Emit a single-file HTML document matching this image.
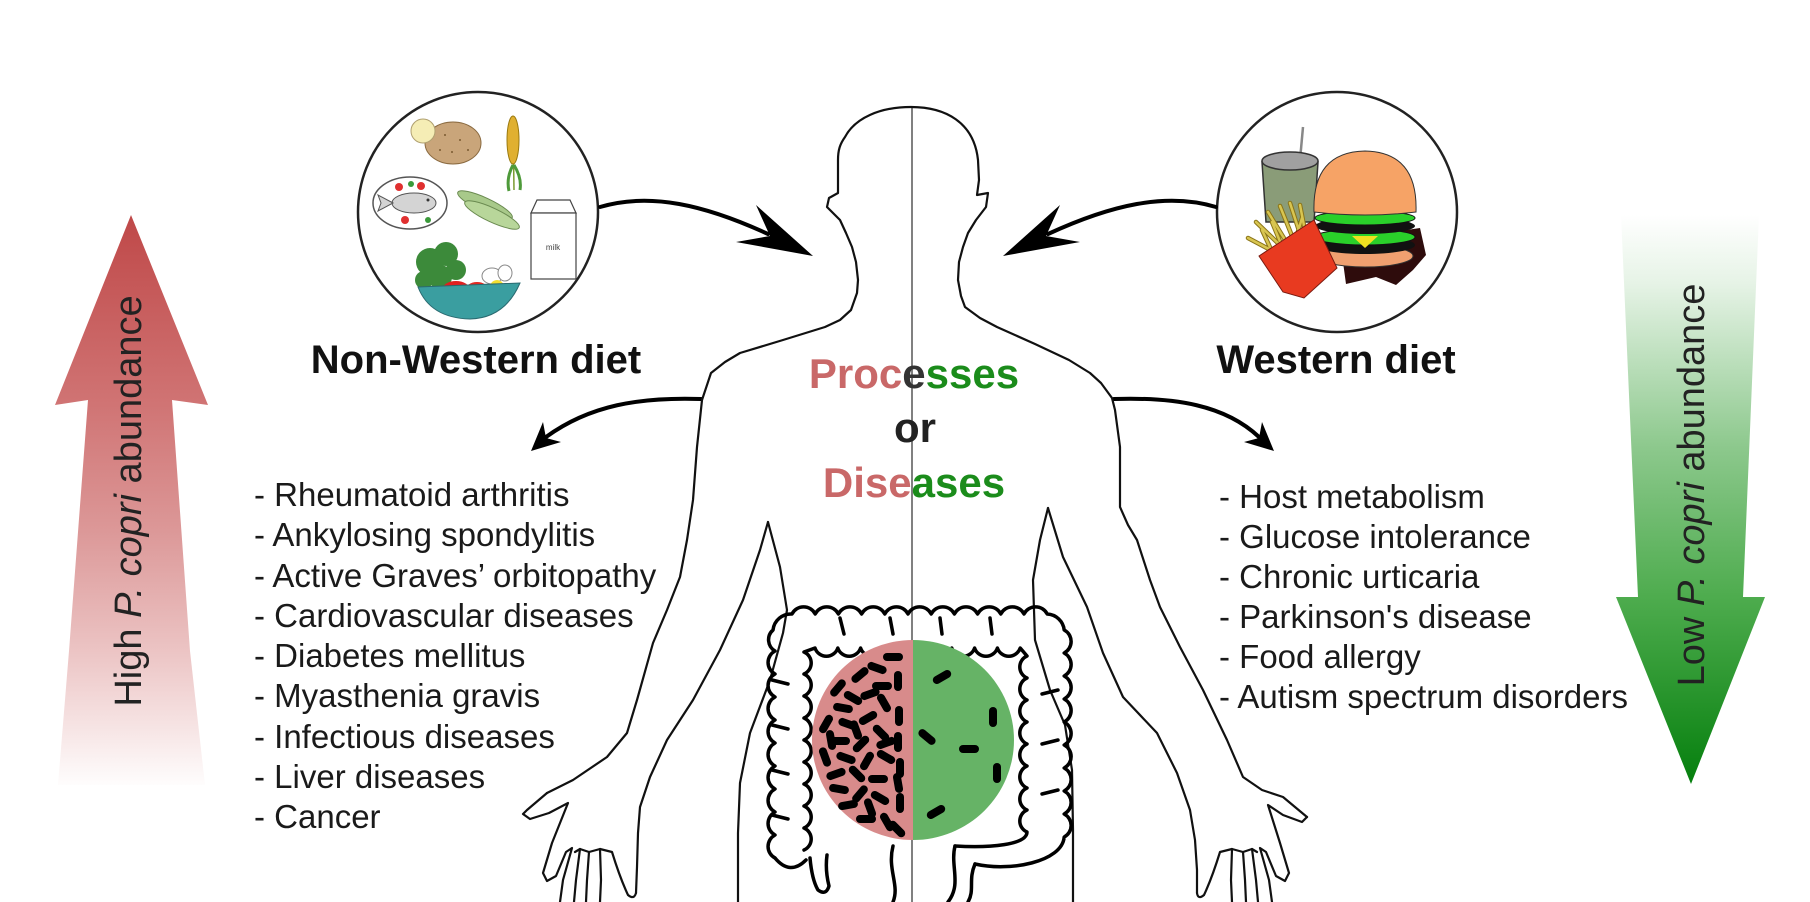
<!DOCTYPE html>
<html>
<head>
<meta charset="utf-8">
<style>
html,body{margin:0;padding:0;background:#fff;}
svg{display:block;}
text{font-family:"Liberation Sans",Arial,sans-serif;}
</style>
</head>
<body>
<svg width="1810" height="902" viewBox="0 0 1810 902" xmlns="http://www.w3.org/2000/svg">
<defs>
 <linearGradient id="rg" gradientUnits="userSpaceOnUse" x1="0" y1="215" x2="0" y2="790">
  <stop offset="0" stop-color="#bf4848"/>
  <stop offset="0.33" stop-color="#d07474"/>
  <stop offset="0.55" stop-color="#dc9898"/>
  <stop offset="0.75" stop-color="#ebc2c2"/>
  <stop offset="0.9" stop-color="#f7e6e6"/>
  <stop offset="1" stop-color="#ffffff"/>
 </linearGradient>
 <linearGradient id="gg" gradientUnits="userSpaceOnUse" x1="0" y1="215" x2="0" y2="785">
  <stop offset="0" stop-color="#ffffff"/>
  <stop offset="0.12" stop-color="#e6f3e6"/>
  <stop offset="0.41" stop-color="#8cc88c"/>
  <stop offset="0.67" stop-color="#4eac4e"/>
  <stop offset="1" stop-color="#057f0d"/>
 </linearGradient>
</defs>
<rect width="1810" height="902" fill="#fff"/>

<!-- Big side arrows -->
<path d="M131,215 L208,405 L172,400 L190,651 L205,785 L58,785 L69,651 L88,400 L55,405 Z" fill="url(#rg)"/>
<path d="M1621,215 L1759,215 L1743,597 L1765,597 L1691,784 L1616,597 L1638,597 Z" fill="url(#gg)"/>
<text transform="translate(141,501) rotate(-90)" text-anchor="middle" font-size="38" fill="#222">High <tspan font-style="italic">P. copri</tspan> abundance</text>
<text transform="translate(1704,485) rotate(-90)" text-anchor="middle" font-size="38" fill="#222">Low <tspan font-style="italic">P. copri</tspan> abundance</text>

<!-- Non-Western circle -->
<circle cx="478" cy="212" r="120" fill="#fff" stroke="#222" stroke-width="2.5"/>
<ellipse cx="453" cy="143" rx="28" ry="21" fill="#c9a57a" stroke="#8a6a40" stroke-width="1"/>
<circle cx="423" cy="131" r="12" fill="#f5edb5" stroke="#b0a070" stroke-width="1"/>
<g fill="#7a5a30"><circle cx="445" cy="135" r="1"/><circle cx="460" cy="140" r="1"/><circle cx="452" cy="152" r="1"/><circle cx="468" cy="150" r="1"/><circle cx="440" cy="150" r="1"/></g>
<line x1="514" y1="190" x2="513" y2="118" stroke="#7a9a30" stroke-width="1.5"/>
<ellipse cx="513" cy="140" rx="6" ry="24" fill="#e0b030" stroke="#9a7a10" stroke-width="1"/>
<path d="M513,165 Q506,178 509,191 M514,165 Q522,178 520,190" stroke="#4e9a3a" stroke-width="3" fill="none"/>
<ellipse cx="410" cy="203" rx="37" ry="26" fill="#fff" stroke="#555" stroke-width="1.5"/>
<ellipse cx="414" cy="203" rx="22" ry="10" fill="#d4d4d4" stroke="#555" stroke-width="1"/>
<path d="M393,203 L378,195 L381,203 L378,211 Z" fill="#d4d4d4" stroke="#555" stroke-width="1"/>
<circle cx="428" cy="200" r="1.5" fill="#333"/>
<g fill="#e03030"><circle cx="399" cy="187" r="4"/><circle cx="421" cy="186" r="4"/><circle cx="405" cy="220" r="4"/></g>
<g fill="#3a9a3a"><circle cx="411" cy="184" r="3"/><circle cx="428" cy="220" r="3"/></g>
<ellipse cx="485" cy="205" rx="30" ry="7" transform="rotate(25 485 205)" fill="#a8c98a" stroke="#6a8a50" stroke-width="1"/>
<ellipse cx="492" cy="215" rx="30" ry="7" transform="rotate(25 492 215)" fill="#b8d69a" stroke="#6a8a50" stroke-width="1"/>
<path d="M531,213 L537,200 L570,200 L576,213 Z" fill="#fff" stroke="#444" stroke-width="1.2"/>
<rect x="531" y="213" width="45" height="66" fill="#fff" stroke="#444" stroke-width="1.2"/>
<text x="553" y="250" text-anchor="middle" font-size="8" fill="#444">milk</text>
<g fill="#3c8a3a"><circle cx="430" cy="262" r="14"/><circle cx="446" cy="254" r="12"/><circle cx="440" cy="277" r="12"/><circle cx="456" cy="270" r="10"/><circle cx="424" cy="280" r="9"/></g>
<ellipse cx="492" cy="276" rx="10" ry="8" fill="#fff" stroke="#888" stroke-width="1"/>
<ellipse cx="505" cy="273" rx="7" ry="8" fill="#fff" stroke="#888" stroke-width="1"/>
<ellipse cx="456" cy="290" rx="14" ry="9" fill="#e02020"/>
<ellipse cx="477" cy="291" rx="12" ry="9" fill="#e22a22"/>
<ellipse cx="497" cy="290" rx="8" ry="10" fill="#f3e030"/>
<path d="M418,287 L520,283 Q505,318 470,319 Q430,318 418,287 Z" fill="#3a9ea0" stroke="#2a6a70" stroke-width="1"/>

<!-- Western circle -->
<circle cx="1337" cy="212" r="120" fill="#fff" stroke="#222" stroke-width="2.5"/>
<line x1="1300" y1="160" x2="1303" y2="127" stroke="#888" stroke-width="2.5"/>
<path d="M1262,162 L1318,162 L1314,222 L1266,222 Z" fill="#8a9c78" stroke="#333" stroke-width="1.5"/>
<ellipse cx="1290" cy="161" rx="28" ry="9" fill="#a0a0a0" stroke="#333" stroke-width="1.5"/>
<path d="M1340,240 L1420,228 L1426,255 L1413,270 L1396,285 L1376,277 L1346,284 Z" fill="#2e0c0c"/>
<ellipse cx="1365" cy="256" rx="48" ry="11" fill="#f0a070" stroke="#333" stroke-width="1"/>
<ellipse cx="1365" cy="245" rx="50" ry="9" fill="#111"/>
<ellipse cx="1365" cy="237" rx="50" ry="8" fill="#2ad02a" stroke="#111" stroke-width="1"/>
<path d="M1352,236 L1378,236 L1365,248 Z" fill="#f0e020"/>
<ellipse cx="1365" cy="226" rx="50" ry="8" fill="#111"/>
<ellipse cx="1365" cy="218" rx="50" ry="7" fill="#2ad02a" stroke="#111" stroke-width="1"/>
<path d="M1314,212 Q1312,152 1365,151 Q1418,152 1416,212 Q1365,218 1314,212 Z" fill="#f6a366" stroke="#333" stroke-width="1"/>
<g stroke="#8a7418" stroke-width="4.5" stroke-linecap="round"><path d="M1280,255 L1248,238 M1285,250 L1256,222 M1290,248 L1268,212 M1296,246 L1280,206 M1302,240 L1290,203 M1306,236 L1300,205 M1275,258 L1262,230 M1292,252 L1302,218 M1286,256 L1272,222"/></g>
<g stroke="#d8c550" stroke-width="2.5" stroke-linecap="round"><path d="M1280,255 L1248,238 M1285,250 L1256,222 M1290,248 L1268,212 M1296,246 L1280,206 M1302,240 L1290,203 M1306,236 L1300,205 M1275,258 L1262,230 M1292,252 L1302,218 M1286,256 L1272,222"/></g>
<path d="M1259,256 L1314,220 L1337,268 L1304,298 L1283,292 Z" fill="#e83a20" stroke="#7a1a10" stroke-width="1"/>

<!-- Diet labels -->
<text x="476" y="373" text-anchor="middle" font-size="40" font-weight="bold" fill="#111">Non-Western diet</text>
<text x="1336" y="373" text-anchor="middle" font-size="40" font-weight="bold" fill="#111">Western diet</text>

<!-- Curved arrows -->
<g stroke="#000" stroke-width="4" fill="none" stroke-linecap="round">
 <path d="M600,207 C650,192 705,205 768,234"/>
 <path d="M1216,207 C1166,192 1111,205 1048,234"/>
 <path d="M701,399 C640,397 590,405 546,437"/>
 <path d="M1114,399 C1175,397 1225,405 1259,437"/>
</g>
<path d="M813,256 L756,205 L770,236 L736,242 Z" fill="#000"/>
<path d="M1003,256 L1060,205 L1046,236 L1080,242 Z" fill="#000"/>
<path d="M531,451 L543,422 L546,438 L561,442 Z" fill="#000"/>
<path d="M1274,451 L1262,422 L1259,438 L1244,442 Z" fill="#000"/>

<!-- Lists -->
<g font-size="33" fill="#1a1a1a">
 <text x="254" y="506">- Rheumatoid arthritis</text>
 <text x="254" y="546">- Ankylosing spondylitis</text>
 <text x="254" y="587">- Active Graves’ orbitopathy</text>
 <text x="254" y="627">- Cardiovascular diseases</text>
 <text x="254" y="667">- Diabetes mellitus</text>
 <text x="254" y="707">- Myasthenia gravis</text>
 <text x="254" y="748">- Infectious diseases</text>
 <text x="254" y="788">- Liver diseases</text>
 <text x="254" y="828">- Cancer</text>
 <text x="1219" y="508">- Host metabolism</text>
 <text x="1219" y="548">- Glucose intolerance</text>
 <text x="1219" y="588">- Chronic urticaria</text>
 <text x="1219" y="628">- Parkinson's disease</text>
 <text x="1219" y="668">- Food allergy</text>
 <text x="1219" y="708">- Autism spectrum disorders</text>
</g>

<!-- center line -->
<line x1="912" y1="107" x2="912" y2="902" stroke="#808080" stroke-width="2"/>

<!-- Body outline -->
<g stroke="#111" stroke-width="2.2" fill="none" stroke-linejoin="round" stroke-linecap="round">
 <path d="M547,793 L573,780 L607,757 L627,733 L637,700 L653,643 L667,610 L680,577 L687,540 L693,500 L697,447 L702,400 L711,373 L725,362 L740,353 L783,340 L825,327 L840,320 L851,310 L857,293 L858,280 L856,262 L852,247 L846,233 L840,220 L833,213 L827,207 L829,198 L838,193 L838,160 C838,150 840,144 845,137 C855,118 880,107 911,107 C945,107 974,122 978,160 L979,180 L977,195 L988,193 L986,207 L976,220 L968,233 L963,247 L959,262 L958,280 L961,296 L965,307 L980,318 L997,327 L1035,344 L1069,360 L1090,373 L1101,383 L1112,398 L1115,410 L1120,447 L1120,507 L1128,525 L1137,540 L1150,580 L1160,607 L1180,647 L1203,690 L1227,740 L1243,777 L1262,790 L1283,797 L1307,817"/>
 <path d="M547,793 L527,810 L523,814 L530,819 L549,813 L568,803 L552,843 L543,873 L547,881 L556,876 L566,852 L572,848 L563,880 L560,902"/>
 <path d="M575,852 L580,849 L576,880 L574,902"/>
 <path d="M580,849 L589,852 L587,880 L586,902"/>
 <path d="M589,852 L600,849 L601,880 L600,902"/>
 <path d="M600,849 L612,852 Q620,878 628,895 Q634,900 636,893"/>
 <path d="M768,522 L760,550 L743,600 L720,650 L693,700 L667,740 L650,777 L640,807 L638,833 L637,867 L636,893"/>
 <path d="M768,522 L780,567 L787,610 L783,633 L770,680 L750,733 L740,783 L738,833 L738,902"/>
 <path d="M1307,817 L1302,822 L1283,815 L1268,805 L1280,843 L1289,873 L1285,881 L1276,876 L1266,852 L1260,848 L1269,880 L1272,902"/>
 <path d="M1257,852 L1252,849 L1256,880 L1258,902"/>
 <path d="M1252,849 L1243,852 L1245,880 L1246,902"/>
 <path d="M1243,852 L1232,849 L1231,880 L1232,902"/>
 <path d="M1232,849 L1220,852 Q1212,878 1204,895 Q1198,900 1197,893"/>
 <path d="M1048,508 L1063,557 L1087,607 L1103,653 L1123,697 L1157,733 L1177,773 L1190,810 L1195,840 L1197,870 L1197,893"/>
 <path d="M1048,508 L1040,540 L1033,580 L1035,640 L1050,690 L1065,725 L1072,770 L1073,830 L1073,902"/>
</g>

<!-- Colon -->
<g stroke="#000" stroke-width="3.5" fill="none" stroke-linejoin="round" stroke-linecap="round">
 <path d="M775,858 a13 13 0 0 1 0 -23 a13 13 0 0 1 0 -23 a13 13 0 0 1 0 -23 a13 13 0 0 1 0 -23 a13 13 0 0 1 0 -23 a13 13 0 0 1 0 -23 a13 13 0 0 1 0 -23 a13 13 0 0 1 0 -23 a13 13 0 0 1 0 -23 a13 13 0 0 1 -2 -21 a18 18 0 0 1 19 -16 a13 13 0 0 1 23.2 0 a13 13 0 0 1 23.2 0 a13 13 0 0 1 23.2 0 a13 13 0 0 1 23.2 0 a13 13 0 0 1 23.2 0 a13 13 0 0 1 23.2 0 a13 13 0 0 1 23.2 0 a13 13 0 0 1 23.2 0 a13 13 0 0 1 23.2 0 a13 13 0 0 1 23.2 0 a13 13 0 0 1 23.2 0 a18 18 0 0 1 17 16 a13 13 0 0 1 0 23 a13 13 0 0 1 0 23 a13 13 0 0 1 0 23 a13 13 0 0 1 0 23 a13 13 0 0 1 0 23 a13 13 0 0 1 0 23 a13 13 0 0 1 0 23 a13 13 0 0 1 0 23 a13 13 0 0 1 0 23 C1062,862 1010,872 975,864"/>
 <path d="M804,850 a12 12 0 0 0 0 -22 a12 12 0 0 0 0 -22 a12 12 0 0 0 0 -22 a12 12 0 0 0 0 -22 a12 12 0 0 0 0 -22 a12 12 0 0 0 0 -22 a12 12 0 0 0 0 -22 a12 12 0 0 0 0 -22 a12 12 0 0 0 0 -22 L815,648 a12 12 0 0 0 22.8 0 a12 12 0 0 0 22.8 0 a12 12 0 0 0 22.8 0 a12 12 0 0 0 22.8 0 a12 12 0 0 0 22.8 0 a12 12 0 0 0 22.8 0 a12 12 0 0 0 22.8 0 a12 12 0 0 0 22.8 0 a12 12 0 0 0 22.8 0 L1027,656 a12 12 0 0 0 0 22 a12 12 0 0 0 0 22 a12 12 0 0 0 0 22 a12 12 0 0 0 0 22 a12 12 0 0 0 0 22 a12 12 0 0 0 0 22 a12 12 0 0 0 0 22 a12 12 0 0 0 0 22 C1027,845 990,848 955,846"/>
 <path d="M775,858 Q790,876 806,860"/>
 <path d="M810,858 Q812,880 818,890 Q826,896 829,886 Q825,870 827,855"/>
 <path d="M893,846 C887,870 900,885 893,902"/>
 <path d="M955,846 C950,866 962,884 948,902"/>
 <path d="M975,864 C968,880 975,890 968,902"/>
 <path d="M772,680 L788,684 M772,725 L788,729 M772,770 L788,774 M772,815 L788,819 M840,618 L844,634 M890,618 L893,634 M940,618 L942,634 M990,618 L992,634 M1058,690 L1042,694 M1058,740 L1042,744 M1058,790 L1042,794"/>
</g>

<!-- Gut ellipse -->
<path d="M913,640 A101 100 0 0 0 913,840 Z" fill="#d88b8b"/>
<path d="M913,640 A101 100 0 0 1 913,840 Z" fill="#66b366"/>

<g fill="#000">
 <rect x="-10" y="-4" width="20" height="8" rx="4" transform="translate(893,657) rotate(0)"/>
 <rect x="-10" y="-4" width="20" height="8" rx="4" transform="translate(877,668) rotate(20)"/>
 <rect x="-10" y="-4" width="20" height="8" rx="4" transform="translate(860,675) rotate(-40)"/>
 <rect x="-10" y="-4" width="20" height="8" rx="4" transform="translate(898,681) rotate(90)"/>
 <rect x="-10" y="-4" width="20" height="8" rx="4" transform="translate(838,688) rotate(-50)"/>
 <rect x="-10" y="-4" width="20" height="8" rx="4" transform="translate(853,698) rotate(30)"/>
 <rect x="-10" y="-4" width="20" height="8" rx="4" transform="translate(870,694) rotate(-20)"/>
 <rect x="-10" y="-4" width="20" height="8" rx="4" transform="translate(884,703) rotate(60)"/>
 <rect x="-10" y="-4" width="20" height="8" rx="4" transform="translate(843,708) rotate(10)"/>
 <rect x="-10" y="-4" width="20" height="8" rx="4" transform="translate(899,716) rotate(90)"/>
 <rect x="-10" y="-4" width="20" height="8" rx="4" transform="translate(826,724) rotate(-60)"/>
 <rect x="-10" y="-4" width="20" height="8" rx="4" transform="translate(848,724) rotate(20)"/>
 <rect x="-10" y="-4" width="20" height="8" rx="4" transform="translate(868,718) rotate(-30)"/>
 <rect x="-10" y="-4" width="20" height="8" rx="4" transform="translate(881,733) rotate(45)"/>
 <rect x="-10" y="-4" width="20" height="8" rx="4" transform="translate(840,741) rotate(0)"/>
 <rect x="-10" y="-4" width="20" height="8" rx="4" transform="translate(861,744) rotate(-45)"/>
 <rect x="-10" y="-4" width="20" height="8" rx="4" transform="translate(898,742) rotate(90)"/>
 <rect x="-10" y="-4" width="20" height="8" rx="4" transform="translate(825,757) rotate(70)"/>
 <rect x="-10" y="-4" width="20" height="8" rx="4" transform="translate(846,758) rotate(20)"/>
 <rect x="-10" y="-4" width="20" height="8" rx="4" transform="translate(867,761) rotate(-60)"/>
 <rect x="-10" y="-4" width="20" height="8" rx="4" transform="translate(886,757) rotate(30)"/>
 <rect x="-10" y="-4" width="20" height="8" rx="4" transform="translate(900,768) rotate(90)"/>
 <rect x="-10" y="-4" width="20" height="8" rx="4" transform="translate(836,774) rotate(-20)"/>
 <rect x="-10" y="-4" width="20" height="8" rx="4" transform="translate(857,774) rotate(45)"/>
 <rect x="-10" y="-4" width="20" height="8" rx="4" transform="translate(878,779) rotate(0)"/>
 <rect x="-10" y="-4" width="20" height="8" rx="4" transform="translate(898,783) rotate(80)"/>
 <rect x="-10" y="-4" width="20" height="8" rx="4" transform="translate(839,789) rotate(10)"/>
 <rect x="-10" y="-4" width="20" height="8" rx="4" transform="translate(860,794) rotate(-50)"/>
 <rect x="-10" y="-4" width="20" height="8" rx="4" transform="translate(880,798) rotate(30)"/>
 <rect x="-10" y="-4" width="20" height="8" rx="4" transform="translate(900,803) rotate(90)"/>
 <rect x="-10" y="-4" width="20" height="8" rx="4" transform="translate(848,805) rotate(-10)"/>
 <rect x="-10" y="-4" width="20" height="8" rx="4" transform="translate(870,808) rotate(70)"/>
 <rect x="-10" y="-4" width="20" height="8" rx="4" transform="translate(866,819) rotate(0)"/>
 <rect x="-10" y="-4" width="20" height="8" rx="4" transform="translate(887,822) rotate(60)"/>
 <rect x="-10" y="-4" width="20" height="8" rx="4" transform="translate(897,829) rotate(45)"/>
 <rect x="-10" y="-4" width="20" height="8" rx="4" transform="translate(831,740) rotate(80)"/>
 <rect x="-10" y="-4" width="20" height="8" rx="4" transform="translate(882,686) rotate(0)"/>
 <rect x="-10" y="-4" width="20" height="8" rx="4" transform="translate(856,730) rotate(70)"/>
 <rect x="-10" y="-4" width="20" height="8" rx="4" transform="translate(886,743) rotate(-20)"/>
 <rect x="-10" y="-4" width="20" height="8" rx="4" transform="translate(942,677) rotate(-30)"/>
 <rect x="-10" y="-4" width="20" height="8" rx="4" transform="translate(993,717) rotate(90)"/>
 <rect x="-10" y="-4" width="20" height="8" rx="4" transform="translate(927,737) rotate(40)"/>
 <rect x="-10" y="-4" width="20" height="8" rx="4" transform="translate(969,749) rotate(0)"/>
 <rect x="-10" y="-4" width="20" height="8" rx="4" transform="translate(997,773) rotate(90)"/>
 <rect x="-10" y="-4" width="20" height="8" rx="4" transform="translate(936,812) rotate(-30)"/>
</g>

<g font-size="42" font-weight="bold" text-anchor="middle">
 <text x="914" y="388"><tspan fill="#c96868">Proc</tspan><tspan fill="#333">e</tspan><tspan fill="#1b8c1b">sses</tspan></text>
 <text x="915" y="442" fill="#222">or</text>
 <text x="914" y="497"><tspan fill="#c96868">Dise</tspan><tspan fill="#1b8c1b">ases</tspan></text>
</g>
</svg>
</body>
</html>
